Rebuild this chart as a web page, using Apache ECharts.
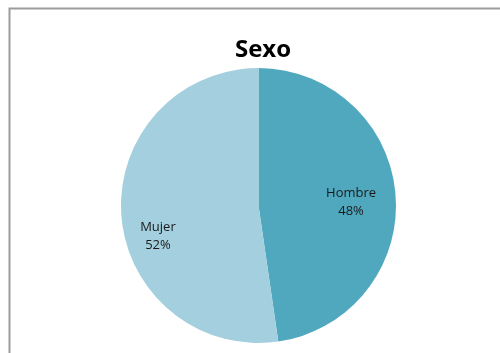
<!DOCTYPE html>
<html>
<head>
<meta charset="utf-8">
<script src="https://cdn.jsdelivr.net/npm/echarts@6/dist/echarts.min.js"></script>
<style>
html, body { margin: 0; padding: 0; background: #fff; }
#chart { width: 500px; height: 353px; }
</style>
</head>
<body>
<div id="chart"></div>
<script>
var titleText = 'Sexo';
var categories = ['Hombre', 'Mujer'];
// shares; labels show them rounded
var values = [47.7, 52.3];
var colors = ['#50A8BF', '#A3CFDE'];
var labelOffsets = [[21, 2], [-29, 26]];

var pieData = [];
for (var i = 0; i < categories.length; i++) {
	pieData.push({
		name: categories[i],
		value: values[i],
		itemStyle: { color: colors[i] },
		label: { offset: labelOffsets[i] }
	});
}

var option = {
	animation: false,
	graphic: [{
		type: 'rect',
		shape: { x: 9.5, y: 8.5, width: 600, height: 400 },
		style: { fill: 'none', stroke: '#9c9c9c', lineWidth: 2 },
		silent: true
	}],
	title: {
		text: titleText,
		left: 258,
		textAlign: 'center',
		top: 33,
		textStyle: {
			fontFamily: 'Open Sans',
			fontWeight: 'bold',
			fontSize: 24,
			color: '#000'
		}
	},
	series: [{
		type: 'pie',
		center: [258.5, 205.5],
		radius: 137.5,
		startAngle: 90,
		clockwise: true,
		percentPrecision: 0,
		avoidLabelOverlap: false,
		label: {
			show: true,
			position: 'inside',
			formatter: '{b}\n{d}%',
			fontFamily: 'Open Sans',
			fontSize: 13,
			lineHeight: 18,
			color: '#1a1a1a'
		},
		labelLine: { show: false },
		emphasis: { disabled: true },
		data: pieData
	}]
};

var myChart = echarts.init(document.getElementById('chart'));
myChart.setOption(option);
</script>
</body>
</html>
